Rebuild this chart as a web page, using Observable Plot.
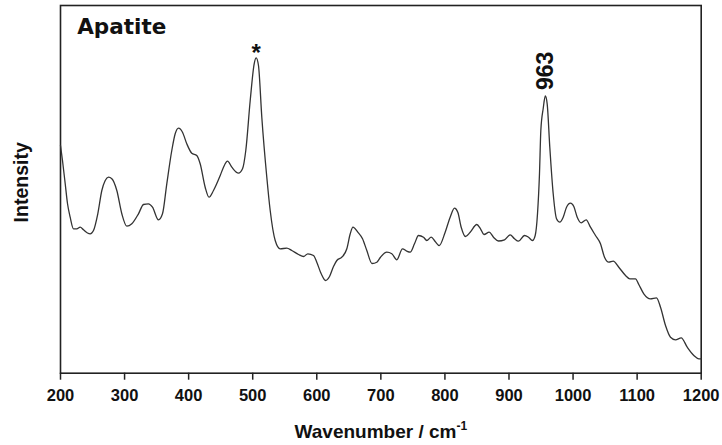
<!DOCTYPE html>
<html>
<head>
<meta charset="utf-8">
<script src="https://cdn.jsdelivr.net/npm/d3@7"></script>
<script src="https://cdn.jsdelivr.net/npm/@observablehq/plot@0.6"></script>
<style>
  html, body { margin: 0; padding: 0; background: #fff; }
  #chart svg { display: block; }
</style>
</head>
<body>
<div id="chart"></div>
<script>
// Raman spectrum of apatite
const wavenumber = [
  200, 203.1, 207.3, 210.9, 215.1, 220.3, 225.4, 230.7, 235.9, 242.1,
  246.4, 251.5, 258.2, 264.5, 269.8, 274.9, 280.1, 287.9, 295.7, 303.5,
  311.3, 321.7, 329.5, 337.3, 343.6, 352.9, 359.2, 365.9, 373.7, 379.0,
  384.2, 390.4, 397.1, 404.9, 412.7, 418.0, 425.8, 431.8, 438.8, 449.3,
  454.4, 460.7, 467.4, 477.8, 484.1, 489.2, 496.1, 502.3, 505.4, 509.0,
  514.2, 522.0, 527.3, 535.1, 542.9, 553.2, 561.0, 571.5, 579.3, 586.0,
  594.9, 600.0, 606.9, 613.6, 619.9, 626.1, 631.3, 639.1, 646.9, 652.2,
  656.5, 664.0, 671.4, 678.1, 686.2, 693.7, 699.5, 709.3, 717.1, 724.9,
  733.8, 740.5, 745.8, 752.5, 758.8, 766.6, 771.7, 778.6, 784.8, 791.1,
  800.4, 808.2, 814.9, 820.1, 825.4, 832.1, 839.4, 849.8, 855.5, 861.0,
  869.1, 875.8, 883.6, 893.0, 901.9, 908.6, 914.8, 924.2, 930.4, 936.7,
  940.9, 944.5, 947.6, 949.7, 953.4, 956.7, 959.6, 963.7, 969.0, 974.2,
  979.3, 984.6, 989.8, 996.0, 1001.2, 1006.5, 1012.7, 1020.5, 1027.2, 1035.0,
  1042.8, 1049.1, 1055.8, 1062.6, 1071.4, 1081.9, 1088.6, 1097.5, 1102.6, 1110.4,
  1120.9, 1130.2, 1136.5, 1144.3, 1152.1, 1159.9, 1168.8, 1178.2, 1188.5, 1196.3,
  1200
];
const intensity = [
  227.7, 212.7, 189.7, 169.7, 156.0, 144.4, 144.4, 146.0, 143.4, 140.2,
  139.4, 142.7, 159.4, 182.7, 192.7, 196.0, 194.4, 182.7, 159.4, 147.0,
  149.4, 159.4, 168.7, 169.4, 166.0, 153.4, 159.4, 189.4, 222.7, 239.4,
  245.0, 241.0, 229.4, 220.0, 217.7, 209.4, 186.0, 176.0, 182.7, 197.7,
  206.0, 212.0, 206.0, 200.0, 204.4, 222.7, 272.7, 309.4, 315.4, 307.7,
  256.0, 196.0, 162.7, 132.7, 124.4, 125.0, 122.7, 118.7, 116.7, 119.4,
  117.7, 111.0, 99.4, 92.7, 96.7, 106.7, 112.7, 116.0, 124.4, 139.4,
  146.0, 141.0, 134.4, 122.7, 109.7, 111.0, 116.0, 121.0, 119.4, 113.4,
  124.4, 122.0, 121.0, 129.4, 137.7, 136.0, 132.7, 136.0, 131.7, 127.7,
  141.0, 156.0, 165.0, 161.0, 146.0, 136.7, 141.0, 148.7, 144.4, 138.7,
  141.0, 136.0, 132.2, 133.4, 138.4, 134.4, 132.0, 137.7, 136.0, 132.7,
  137.7, 159.4, 199.4, 242.7, 264.7, 277.2, 269.4, 226.0, 179.4, 154.4,
  151.0, 156.0, 166.0, 170.0, 166.7, 156.0, 150.4, 153.4, 146.0, 137.7,
  129.4, 116.0, 111.0, 112.0, 106.0, 97.7, 94.4, 94.4, 88.7, 79.4,
  74.4, 75.4, 66.0, 47.7, 36.0, 33.4, 35.4, 26.0, 17.7, 14.4,
  14.4
];
const xTicks = [200, 300, 400, 500, 600, 700, 800, 900, 1000, 1100, 1200];
const peakLabels = ["*", "963"];
const peakWavenumbers = [505.4, 956.7];
const peakIntensities = [315.4, 277.2];
const sampleName = "Apatite";
const xLabel = "Wavenumber / cm";
const xLabelSup = "-1";
const yLabel = "Intensity";

const spectrum = wavenumber.map((w, i) => ({w, v: intensity[i]}));
const starData = [{w: peakWavenumbers[0], v: peakIntensities[0], t: peakLabels[0]}];
const bandData = [{w: peakWavenumbers[1], v: peakIntensities[1], t: peakLabels[1]}];

const sans = "'Liberation Sans', Arial, Helvetica, sans-serif";

const chart = Plot.plot({
  width: 722,
  height: 445,
  marginLeft: 60,
  marginRight: 21.3,
  marginTop: 5,
  marginBottom: 72.3,
  style: {background: "#fff", color: "#111", fontFamily: sans},
  x: {domain: [200, 1200]},
  y: {domain: [0, 367.7], axis: null},
  marks: [
    Plot.frame({stroke: "#222", strokeWidth: 1.6}),
    Plot.axisX({
      ticks: xTicks, tickSize: 7, tickPadding: 9.5, tickFormat: d => String(d),
      label: null, stroke: "#222", strokeWidth: 1.5,
      fontSize: 16.5, fontWeight: "bold", fontFamily: sans, fill: "#111"
    }),
    Plot.line(spectrum, {x: "w", y: "v", stroke: "#333", strokeWidth: 1.3, curve: "monotone-x"}),
    Plot.text(starData, {x: "w", y: "v", text: "t", lineAnchor: "top", dy: -14, fontSize: 24, fontWeight: "bold", fontFamily: sans, fill: "#111"}),
    Plot.text(bandData, {x: "w", y: "v", text: "t", rotate: -90, textAnchor: "start", lineAnchor: "middle", dy: -6, fontSize: 23, fontWeight: "bold", fontFamily: sans, fill: "#111"}),
    Plot.text([sampleName], {text: d => d, frameAnchor: "top-left", textAnchor: "start", lineAnchor: "top", dx: 16.7, dy: 13.3, fontSize: 21.5, fontWeight: "bold", fontFamily: "'DejaVu Sans', sans-serif", fill: "#111"}),
    Plot.text([xLabel], {text: d => d, frameAnchor: "bottom", textAnchor: "middle", lineAnchor: "top", dy: 50.8, fontSize: 19, fontWeight: "bold", fontFamily: sans, fill: "#111"}),
    Plot.text([yLabel], {text: d => d, frameAnchor: "left", textAnchor: "middle", rotate: -90, lineAnchor: "top", dx: -46.7, dy: -7, fontSize: 19.5, fontWeight: "bold", fontFamily: sans, fill: "#111"})
  ]
});

d3.select(chart).selectAll("text")
  .filter(function() { return this.textContent === xLabel; })
  .append("tspan")
  .attr("dy", "-8")
  .attr("font-size", 12)
  .text(xLabelSup);

document.getElementById("chart").appendChild(chart);
</script>
</body>
</html>
